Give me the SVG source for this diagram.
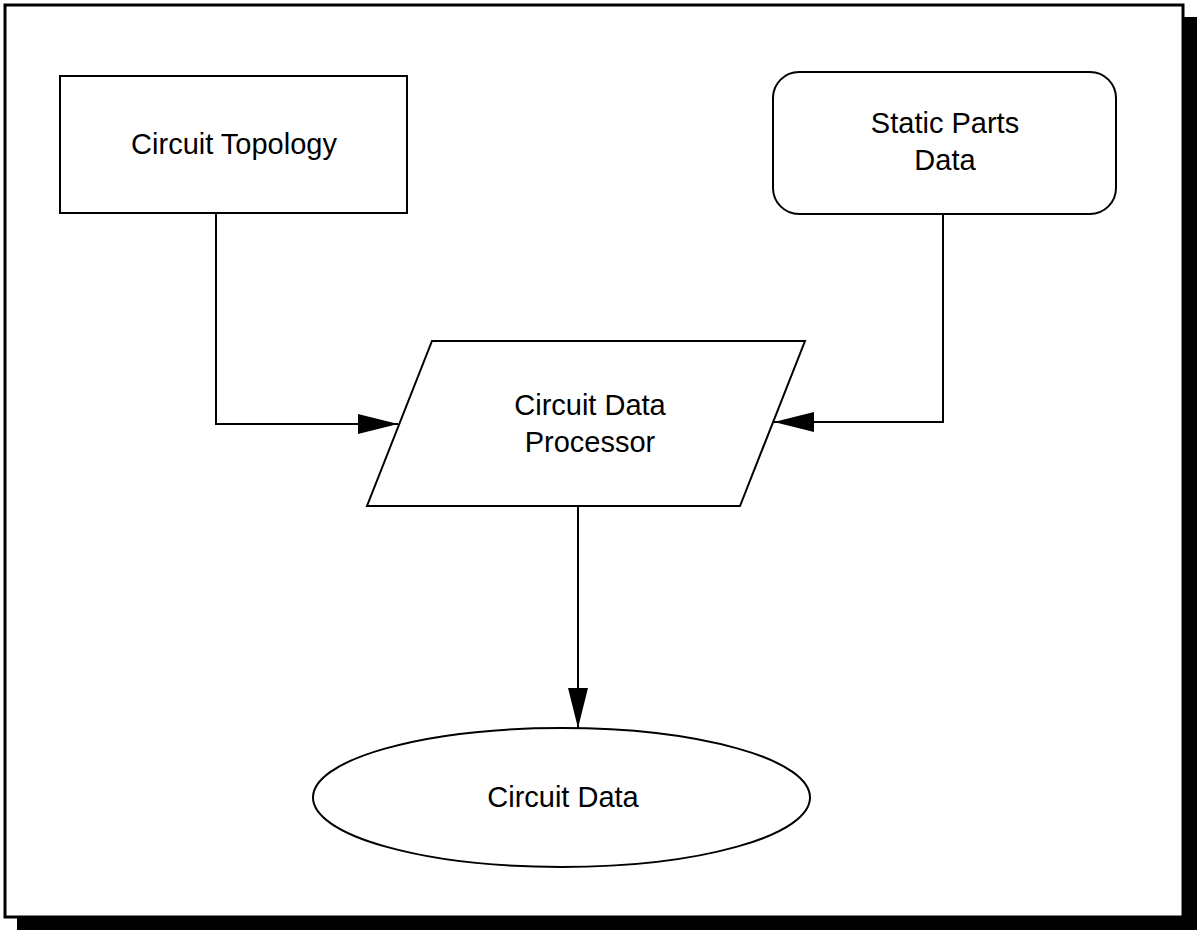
<svg xmlns="http://www.w3.org/2000/svg" width="1197" height="930" viewBox="0 0 1197 930">
  <style>
    .shape { fill: #ffffff; stroke: #000000; stroke-width: 2; }
    .wire { fill: none; stroke: #000000; stroke-width: 2; }
    .label { font-family: "Liberation Sans", Arial, sans-serif; font-size: 29px; fill: #000000; text-anchor: middle; }
  </style>
  <defs>
    <marker id="arrow" viewBox="0 0 40 20" refX="40" refY="10" markerWidth="40" markerHeight="20" markerUnits="userSpaceOnUse" orient="auto">
      <path d="M0,0 L40,10 L0,20 Z" fill="#000000"/>
    </marker>
  </defs>

  <!-- page background, drop shadow and frame -->
  <rect x="0" y="0" width="1197" height="930" fill="#ffffff"/>
  <rect x="17" y="17" width="1180" height="913" fill="#000000"/>
  <rect x="5" y="5" width="1178" height="912" fill="#ffffff" stroke="#000000" stroke-width="3"/>

  <!-- connectors -->
  <g id="connectors">
    <polyline class="wire" points="216,213 216,424 398,424" marker-end="url(#arrow)"/>
    <polyline class="wire" points="943,214 943,422 774,422" marker-end="url(#arrow)"/>
    <line class="wire" x1="578" y1="506" x2="578" y2="728" marker-end="url(#arrow)"/>
  </g>

  <g id="circuit-topology">
    <rect class="shape" x="60" y="76" width="347" height="137"/>
    <text class="label" x="234" y="154">Circuit Topology</text>
  </g>

  <g id="static-parts-data">
    <rect class="shape" x="773" y="72" width="343" height="142" rx="26" ry="26"/>
    <text class="label" x="945" y="133">Static Parts</text>
    <text class="label" x="945" y="170">Data</text>
  </g>

  <g id="circuit-data-processor">
    <polygon class="shape" points="432,341 805,341 740,506 367,506"/>
    <text class="label" x="590" y="415">Circuit Data</text>
    <text class="label" x="590" y="452">Processor</text>
  </g>

  <g id="circuit-data">
    <ellipse class="shape" cx="561.5" cy="797.5" rx="248.5" ry="69.5"/>
    <text class="label" x="563" y="807">Circuit Data</text>
  </g>
</svg>
